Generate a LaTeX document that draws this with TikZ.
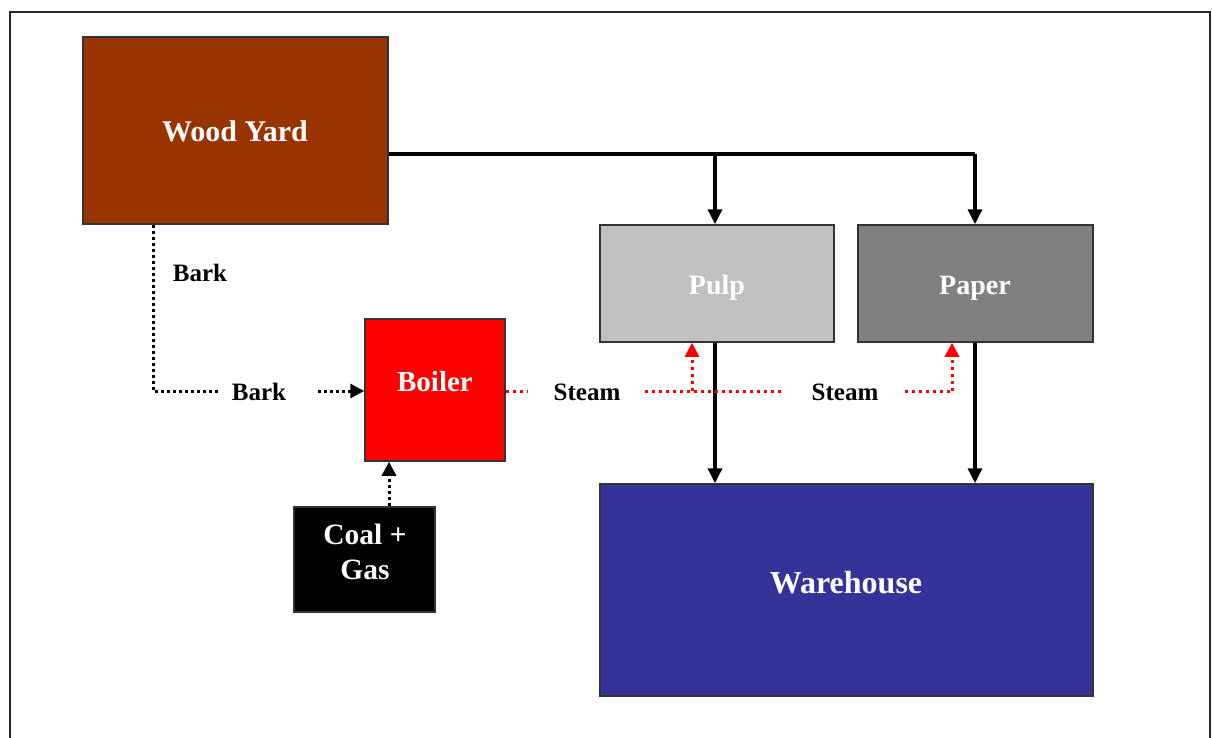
\documentclass[tikz,border=0pt]{standalone}
\usepackage{fontspec}
\setmainfont{Liberation Serif}
\usetikzlibrary{arrows.meta}
\definecolor{woodc}{HTML}{993300}
\definecolor{pulpc}{HTML}{C0C0C0}
\definecolor{paperc}{HTML}{808080}
\definecolor{wareh}{HTML}{333399}
\begin{document}
\begin{tikzpicture}[x=1pt,y=-1pt,
  box/.style={draw=black!80,line width=1.5pt,inner sep=0pt},
  btxt/.style={text=white,font=\fontsize{#1}{#1}\selectfont\bfseries,align=center,inner sep=0pt},
  lbl/.style={font=\fontsize{25}{28}\selectfont\bfseries,text=black,inner sep=0pt},
  flow/.style={line width=3.5pt,-{Triangle[length=15pt,width=14pt]}},
  flowl/.style={line width=3.5pt},
  dots/.style={line width=3pt,dash pattern=on 3pt off 3pt},
  dotarr/.style={dots,-{Triangle[length=14pt,width=14pt]}},
  steam/.style={line width=3pt,red,dash pattern=on 3pt off 4pt},
  steamarr/.style={steam,-{Triangle[length=14pt,width=14pt]}}
]
\useasboundingbox (0,0) rectangle (1212,738);
\begin{scope}
\clip (0,0) rectangle (1212,738);
\draw[line width=2pt,black!85] (10,12) rectangle (1210,780);
\end{scope}
% boxes
\node[box,fill=woodc,minimum width=305pt,minimum height=187pt] (wood) at (235.5,130.5) {};
\node[btxt=30] (woodt) at (235,131) {Wood Yard};
\node[box,fill=pulpc,minimum width=234pt,minimum height=117pt] (pulp) at (717,283.5) {};
\node[btxt=28] (pulpt) at (717,288) {Pulp};
\node[box,fill=paperc,minimum width=235pt,minimum height=117pt] (paper) at (975.5,283.5) {};
\node[btxt=28] (papert) at (975,288) {Paper};
\node[box,fill=red,minimum width=140pt,minimum height=142pt] (boiler) at (435,390) {};
\node[btxt=29] (boilert) at (435,382) {Boiler};
\node[box,fill=black,minimum width=141pt,minimum height=105pt] (coal) at (364.5,559.5) {};
\node[text=white,font=\fontsize{29.5}{35}\selectfont\bfseries,align=center,inner sep=0pt] (coalt) at (365,552) {Coal +\\Gas};
\node[box,fill=wareh,minimum width=493pt,minimum height=212pt] (ware) at (846.5,590) {};
\node[btxt=32] (waret) at (846,583) {Warehouse};
% coordinates
\coordinate (wr) at (wood.east |- 0,154);
\coordinate (j1) at (715,154);
\coordinate (j2) at (975,154);
% solid flows
\draw[flowl] (wr) -- (j2);
\draw[flow] (j2) -- (j2 |- paper.north);
\draw[flow] (j1) -- (j1 |- pulp.north);
\draw[flow] (j1 |- pulp.south) -- (j1 |- ware.north);
\draw[flow] (j2 |- paper.south) -- (j2 |- ware.north);
% bark
\node[lbl] (bark1) at (200,273) {Bark};
\node[lbl] (bark2) at (259,392) {Bark};
\coordinate (bc) at (153,391);
\coordinate (bt) at (wood.south -| bc);
\coordinate (be) at (220,391);
\draw[dots] (bt) -- (bc) -- (be);
\coordinate (bs) at (318,391);
\draw[dotarr] (bs) -- (boiler.west |- bs);
% coal
\coordinate (cx) at (389,461);
\draw[dotarr] (coal.north -| cx) -- (boiler.south -| cx);
% steam
\node[lbl] (st1) at (587,392) {Steam};
\node[lbl] (st2) at (845,392) {Steam};
\coordinate (s0) at (527,391);
\coordinate (s1) at (645,391);
\coordinate (s2) at (785,391);
\coordinate (s3) at (692,391);
\coordinate (s4) at (905,391);
\coordinate (s5) at (952,391);
\draw[steam] (boiler.east |- s0) -- (s0);
\draw[steam] (s1) -- (s2);
\draw[steamarr] (s3) -- (s3 |- pulp.south);
\draw[steam] (s4) -- (s5);
\draw[steamarr] (s5) -- (s5 |- paper.south);
\end{tikzpicture}
\end{document}
